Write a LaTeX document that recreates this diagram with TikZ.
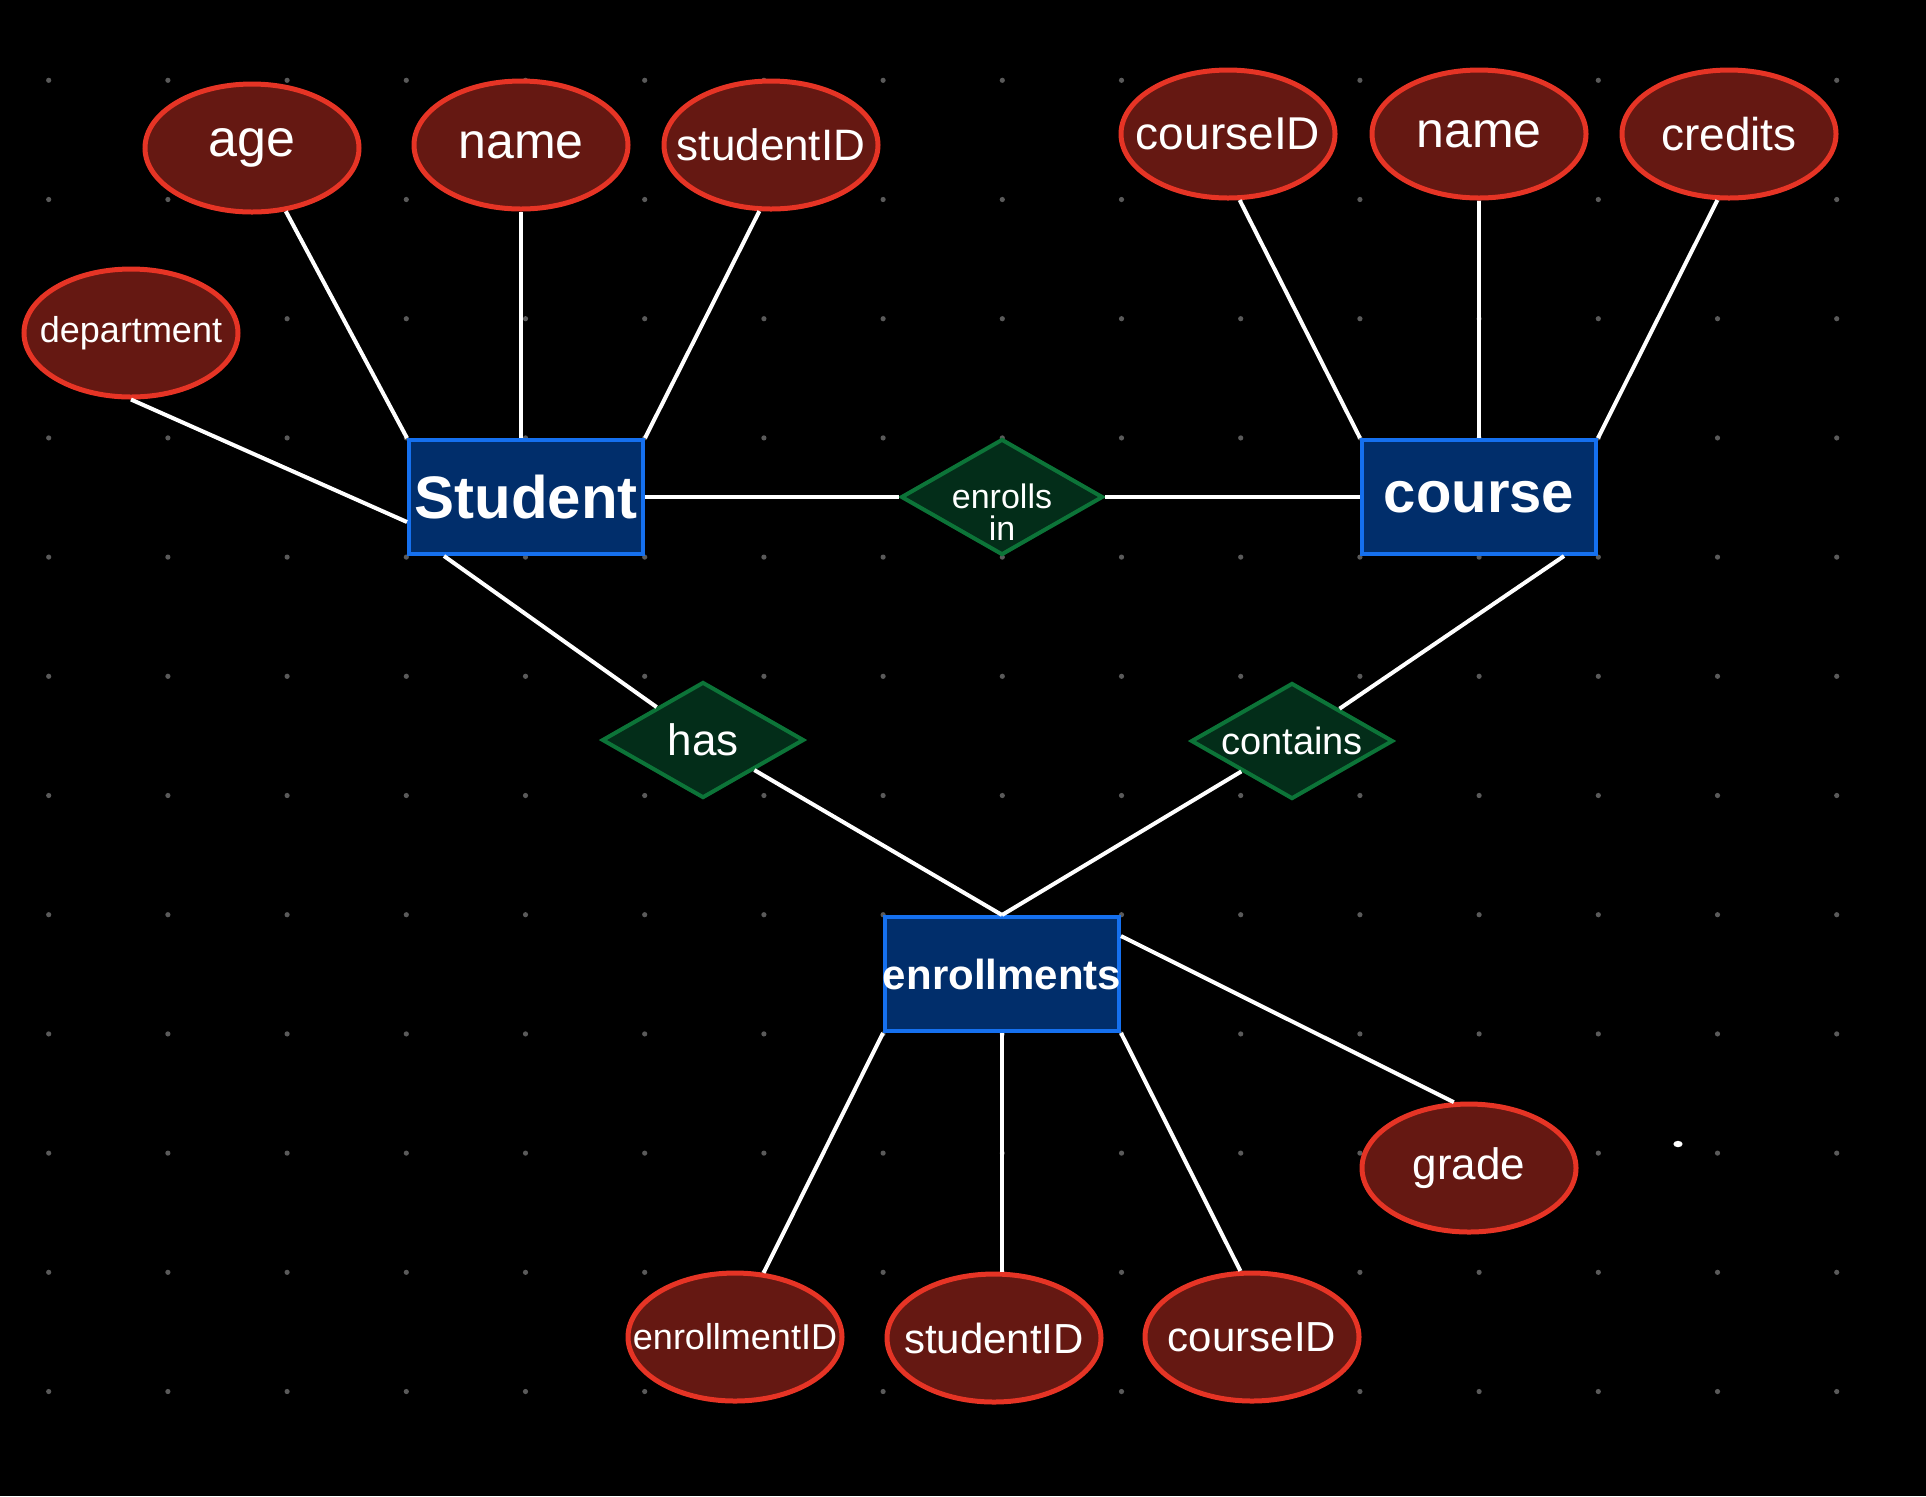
\documentclass[tikz,border=0pt]{standalone}
\usepackage{fontspec}
\setmainfont{Liberation Sans}
\usetikzlibrary{shapes.geometric}
\definecolor{attrfill}{HTML}{651812}
\definecolor{attrline}{HTML}{E63425}
\definecolor{entfill}{HTML}{012E6B}
\definecolor{entline}{HTML}{1570EF}
\definecolor{relfill}{HTML}{032D19}
\definecolor{relline}{HTML}{0C7438}
\definecolor{dotc}{HTML}{5A5A5A}
\newcommand{\zb}[1]{\makebox[0pt][c]{#1}}
\tikzset{
  attr/.style={ellipse, draw=attrline, fill=attrfill, line width=2.5pt,
    minimum width=107pt, minimum height=64pt, inner sep=0pt, text=white},
  ent/.style={rectangle, draw=entline, fill=entfill, line width=2pt,
    minimum width=117pt, minimum height=57pt, inner sep=0pt, text=white},
  rel/.style={diamond, draw=relline, fill=relfill, line width=2pt,
    minimum width=101pt, minimum height=58pt, inner sep=0pt, text=white},
  conn/.style={draw=white, line width=2pt},
  fs/.style={font=\fontsize{#1}{#1}\selectfont}
}
\begin{document}
\begin{tikzpicture}[x=0.5pt,y=-0.5pt]
\fill[black] (0,0) rectangle (1926,1496);
\useasboundingbox (0,0) rectangle (1926,1496);
% dot grid
\foreach \i in {0,...,15}{
  \foreach \j in {0,...,11}{
    \fill[dotc] ({48.7+119.2*\i},{80.3+119.2*\j}) circle (1.3pt);
  }
}
\fill[white] (1678,1144) ellipse [x radius=2.3pt, y radius=1.6pt];

% entities
\node[ent, fs=30] (student) at (526,497) {\zb{\bfseries Student}};
\node[ent, fs=29] (course) at (1479,497) {\zb{\bfseries course}};
\node[ent, fs=21] (enr) at (1002,974) {\zb{\bfseries enrollments}};

% relationships
\node[rel] (enrolls) at (1002,497) {};
\node[fs=17, text=white, align=center, inner sep=0pt] (enrollsT) at (1002,512) {enrolls\\[-1pt]in};
\node[rel, fs=22] (has) at (703,740) {\zb{has}};
\node[rel, fs=19] (contains) at (1292,741) {\zb{contains}};

% student attributes
\node[attr, fs=26] (age) at (252,148) {\zb{age}};
\node[attr, fs=25] (sname) at (521,145) {\zb{name}};
\node[attr, fs=22] (sid) at (771,145) {\zb{studentID}};
\node[attr, fs=18] (dept) at (131,333) {\zb{department}};

% course attributes
\node[attr, fs=23] (cid) at (1228,134) {\zb{courseID}};
\node[attr, fs=25] (cname) at (1479,134) {\zb{name}};
\node[attr, fs=23] (credits) at (1729,134) {\zb{credits}};

% enrollment attributes
\node[attr, fs=22] (grade) at (1469,1168) {\zb{grade}};
\node[attr, fs=18] (eid) at (735,1337) {\zb{enrollmentID}};
\node[attr, fs=21] (sid2) at (994,1338) {\zb{studentID}};
\node[attr, fs=21] (cid2) at (1252,1337) {\zb{courseID}};

% connectors
\draw[conn] (age) -- (student.north west);
\draw[conn] (sname.south) -- (sname.south |- student.north);
\draw[conn] (sid.260) -- (student.north east);
\draw[conn] (dept.south) -- ([yshift=-12.5pt]student.west);

\draw[conn] (cid.280) -- (course.north west);
\draw[conn] (cname.south) -- (course.north);
\draw[conn] (credits.260) -- (course.north east);

\draw[conn] (student.east) -- (enrolls.west);
\draw[conn] (enrolls.east) -- (course.west);

\draw[conn] ([xshift=18.5pt]student.south west) -- (has);
\draw[conn] (has) -- (enr.north);
\draw[conn] ([xshift=-17pt]course.south east) -- (contains);
\draw[conn] (contains) -- (enr.north);

\draw[conn] ([yshift=-10.5pt]enr.north east) -- (grade.103);
\draw[conn] (enr.south west) -- (eid.66);
\draw[conn] (enr.south) -- (enr.south |- sid2.north);
\draw[conn] (enr.south east) -- (cid2.100);
\end{tikzpicture}
\end{document}
